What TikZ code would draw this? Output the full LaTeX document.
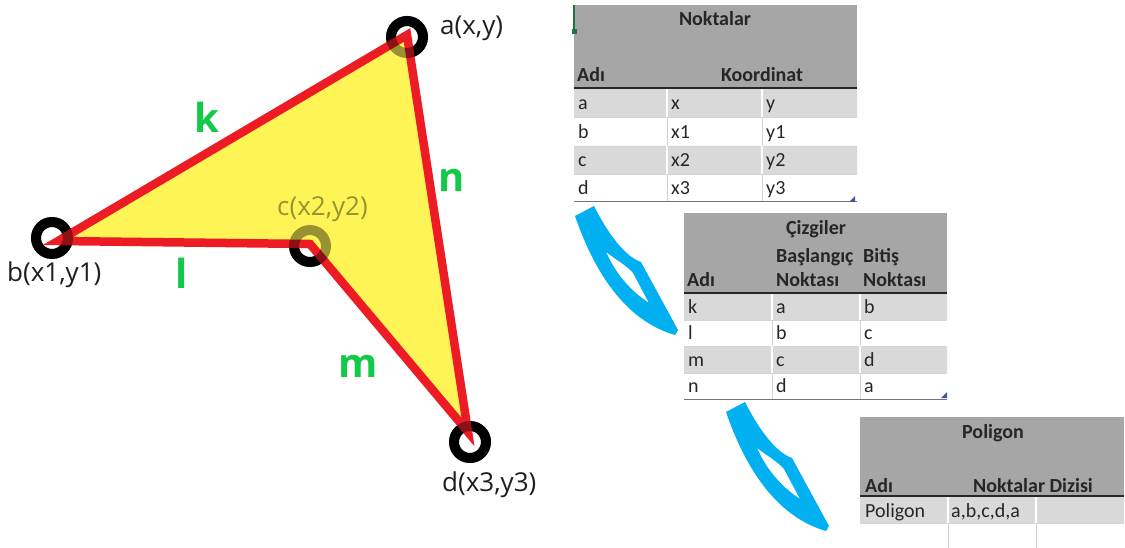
\documentclass[tikz,border=0pt]{standalone}
\usepackage{fontspec}
\setmainfont{Open Sans}
\newfontfamily\xlfont{Carlito}
\usepackage{xcolor}
\definecolor{EdgeRed}{RGB}{237,28,36}
\definecolor{FillY}{RGB}{255,244,85}
\definecolor{LblG}{RGB}{18,201,72}
\definecolor{HdrG}{RGB}{166,166,166}
\definecolor{RowG}{RGB}{217,217,217}
\definecolor{GridG}{RGB}{212,212,212}
\definecolor{ArrB}{RGB}{0,176,240}
\definecolor{XlGreen}{RGB}{33,115,70}
\definecolor{XlBlue}{RGB}{68,84,160}

\begin{document}
\begin{tikzpicture}[x=1pt, y=-1pt,
  ptring/.style={circle, draw=black, line width=10pt, minimum size=32pt, inner sep=0pt},
  ringtop/.style={draw=black, draw opacity=0.4, line width=10pt},
  ptlabel/.style={font=\fontsize{26}{30}\selectfont, text=black!88, anchor=base west, inner sep=0pt},
  edgelbl/.style={font=\fontsize{40}{44}\selectfont\bfseries, text=LblG, anchor=base, inner sep=0pt},
  polyedge/.style={draw=EdgeRed, line width=8.5pt, miter limit=10},
  cell/.style={font=\xlfont\fontsize{20}{24}\selectfont, text=black!85, anchor=base west, inner sep=0pt},
  hcell/.style={cell, font=\xlfont\fontsize{20}{24}\selectfont\bfseries},
  gridln/.style={draw=GridG, line width=0.8pt},
  sepln/.style={draw=white, line width=1.2pt},
  hrule/.style={draw=black!85, line width=1.6pt},
  brule/.style={draw=black!55, line width=1pt},
  curlyarrow/.style={fill=ArrB, even odd rule}
]
\useasboundingbox (0,0) rectangle (1125,548);

\node[ptring] (ra) at (407,37) {};
\node[ptring] (rb) at (52,238) {};
\node[ptring] (rc) at (310,246) {};
\node[ptring] (rd) at (470,442) {};

\coordinate (a) at (407,35);
\coordinate (b) at (58,241);
\coordinate (c) at (310,244);
\coordinate (d) at (468,432);

\fill[FillY] (a) -- (b) -- (c) -- (d) -- cycle;
\draw[polyedge] (a) -- (b) -- (c) -- (d) -- cycle;
\foreach \r in {ra,rb,rc,rd}
  \draw[ringtop] (\r.center) circle[radius=16];

\node[ptlabel] (la) at (440,35) {a(x,y)};
\node[ptlabel] (lb) at (7,282) {b(x1,y1)};
\node[ptlabel, text=black, text opacity=0.4] (lc) at (277,216) {c(x2,y2)};
\node[ptlabel] (ld) at (442,491) {d(x3,y3)};

\node[edgelbl] (lk) at (207,133) {k};
\node[edgelbl] (ln) at (452,192) {n};
\node[edgelbl] (ll) at (182,288) {l};
\node[edgelbl] (lm) at (358,377) {m};

% Noktalar
\fill[HdrG] (574,5) rectangle (857,88);
\fill[RowG] (574,88) rectangle (857,117) (574,146) rectangle (857,174);
\foreach \y in {117,146,174} \draw[gridln] (574,\y) -- (857,\y);
\foreach \x in {667,762} {
  \draw[sepln] (\x,88) -- (\x,117) (\x,146) -- (\x,174);
  \draw[gridln] (\x,117) -- (\x,146) (\x,174) -- (\x,202);
}
\draw[hrule] (574,88) -- (857,88);
\draw[brule] (574,202) -- (857,202);
\draw[XlGreen, line width=1.6pt] (574,5) -- (574,30);
\fill[XlGreen] (572,29) rectangle (577,34);
\fill[XlBlue] (855,196) -- (855,202) -- (849,202) -- cycle;
\node[hcell, anchor=base] (nk-t) at (715,26) {Noktalar};
\node[hcell] (nk-h1) at (577,82) {Adı};
\node[hcell, anchor=base] (nk-h2) at (762,82) {Koordinat};
\foreach \p/\xa/\ya/\y in {a/x/y/110, b/x1/y1/139, c/x2/y2/167, d/x3/y3/195} {
  \node[cell] (nk-\p) at (578,\y) {\p};
  \node[cell] (nk-\p-x) at (671,\y) {\xa};
  \node[cell] (nk-\p-y) at (766,\y) {\ya};
}

% Cizgiler
\fill[HdrG] (684,213) rectangle (947,293);
\fill[RowG] (684,293) rectangle (947,320) (684,346) rectangle (947,373);
\foreach \y in {320,346,373} \draw[gridln] (684,\y) -- (947,\y);
\foreach \x in {772,860} {
  \draw[sepln] (\x,293) -- (\x,320) (\x,346) -- (\x,373);
  \draw[gridln] (\x,320) -- (\x,346) (\x,373) -- (\x,399);
}
\draw[hrule] (684,293) -- (947,293);
\draw[brule] (684,399) -- (947,399);
\fill[XlBlue] (947,392) -- (947,398) -- (941,398) -- cycle;
\node[hcell, anchor=base] (cz-t) at (816,235) {Çizgiler};
\node[hcell] (cz-h2a) at (776,262) {Başlangıç};
\node[hcell] (cz-h3a) at (863,262) {Bitiş};
\node[hcell] (cz-h1) at (687,287) {Adı};
\node[hcell] (cz-h2b) at (776,287) {Noktası};
\node[hcell] (cz-h3b) at (863,287) {Noktası};
\foreach \e/\s/\f/\y in {k/a/b/313, l/b/c/339, m/c/d/366, n/d/a/392} {
  \node[cell] (cz-\e) at (688,\y) {\e};
  \node[cell] (cz-\e-s) at (776,\y) {\s};
  \node[cell] (cz-\e-f) at (864,\y) {\f};
}

% Poligon
\fill[HdrG] (860,417) rectangle (1124,496);
\fill[RowG] (860,496) rectangle (1124,523);
\draw[gridln] (860,523) -- (1124,523);
\foreach \x in {948,1036} {
  \draw[sepln] (\x,496) -- (\x,523);
  \draw[gridln] (\x,523) -- (\x,548);
}
\draw[hrule] (860,496) -- (1124,496);
\node[hcell, anchor=base] (pg-t) at (993,438) {Poligon};
\node[hcell] (pg-h1) at (865,492) {Adı};
\node[hcell, anchor=base] (pg-h2) at (1033,492) {Noktalar Dizisi};
\node[cell] (pg-n) at (865,517) {Poligon};
\node[cell] (pg-s) at (951,517) {a,b,c,d,a};

\foreach \dx/\dy in {0/0, 151/196}
  \fill[curlyarrow, shift={(\dx,\dy)}]
    (575,216) .. controls (597,280) and (630,322) .. (675,335)
    -- (678,330) -- (641,262)
    .. controls (623,256) and (605,228) .. (594,206) -- cycle
    (606,252) .. controls (615,272) and (628,289) .. (649,303)
    -- (633,273) .. controls (626,265) and (615,259) .. cycle;
\end{tikzpicture}
\end{document}
